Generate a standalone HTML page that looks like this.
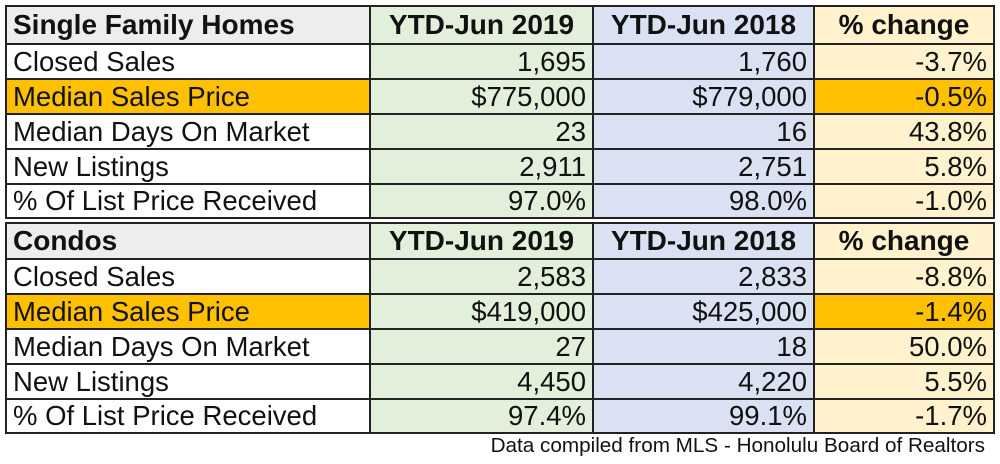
<!DOCTYPE html>
<html><head><style>
body{margin:0;width:1000px;height:464px;background:#fff;position:relative;font-family:"Liberation Sans",Arial,sans-serif;overflow:hidden}
table{position:absolute;left:5px;border-collapse:collapse;table-layout:fixed}
td{border:2px solid #222;padding:0 6px;font-size:27.5px;color:#111;white-space:nowrap;overflow:hidden;line-height:1}
td.n{text-align:right}
tr.h td{font-weight:bold;font-size:28px;text-align:center}
tr.h td:first-child{text-align:left;background:#ededed}
.g{background:#e2efda}.b{background:#d9e1f2}.p{background:#fff2cc}
.o td:first-child,.o td:last-child{background:#ffc000}
.foot{position:absolute;right:15px;top:434px;font-size:20.7px;color:#111}
</style></head><body>
<table style="top:5px">
<colgroup><col style="width:364px"><col style="width:223px"><col style="width:221px"><col style="width:180px"></colgroup>
<tr class="h" style="height:38px"><td>Single Family Homes</td><td class="g">YTD-Jun 2019</td><td class="b">YTD-Jun 2018</td><td class="p">% change</td></tr>
<tr style="height:35px"><td>Closed Sales</td><td class="n g">1,695</td><td class="n b">1,760</td><td class="n p">-3.7%</td></tr>
<tr class="o" style="height:35px"><td>Median Sales Price</td><td class="n g">$775,000</td><td class="n b">$779,000</td><td class="n p">-0.5%</td></tr>
<tr style="height:35px"><td>Median Days On Market</td><td class="n g">23</td><td class="n b">16</td><td class="n p">43.8%</td></tr>
<tr style="height:35px"><td>New Listings</td><td class="n g">2,911</td><td class="n b">2,751</td><td class="n p">5.8%</td></tr>
<tr style="height:34px"><td>% Of List Price Received</td><td class="n g">97.0%</td><td class="n b">98.0%</td><td class="n p">-1.0%</td></tr>
</table>
<table style="top:222px">
<colgroup><col style="width:364px"><col style="width:223px"><col style="width:221px"><col style="width:180px"></colgroup>
<tr class="h" style="height:36px"><td>Condos</td><td class="g">YTD-Jun 2019</td><td class="b">YTD-Jun 2018</td><td class="p">% change</td></tr>
<tr style="height:35px"><td>Closed Sales</td><td class="n g">2,583</td><td class="n b">2,833</td><td class="n p">-8.8%</td></tr>
<tr class="o" style="height:35px"><td>Median Sales Price</td><td class="n g">$419,000</td><td class="n b">$425,000</td><td class="n p">-1.4%</td></tr>
<tr style="height:35px"><td>Median Days On Market</td><td class="n g">27</td><td class="n b">18</td><td class="n p">50.0%</td></tr>
<tr style="height:35px"><td>New Listings</td><td class="n g">4,450</td><td class="n b">4,220</td><td class="n p">5.5%</td></tr>
<tr style="height:34px"><td>% Of List Price Received</td><td class="n g">97.4%</td><td class="n b">99.1%</td><td class="n p">-1.7%</td></tr>
</table>
<div class="foot">Data compiled from MLS - Honolulu Board of Realtors</div>
</body></html>
